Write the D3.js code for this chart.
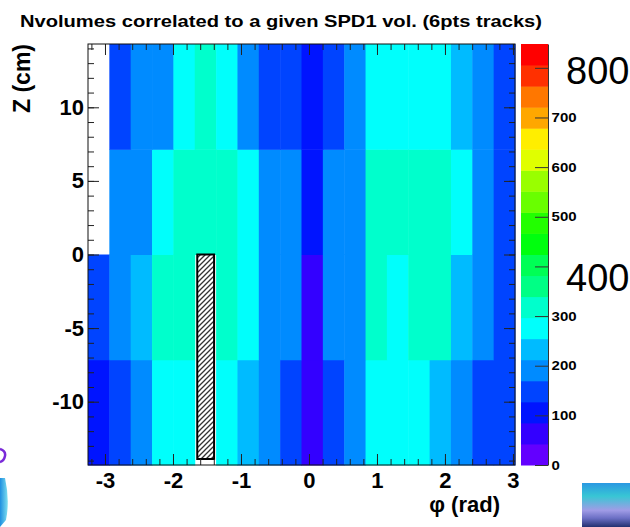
<!DOCTYPE html>
<html>
<head>
<meta charset="utf-8">
<script src="https://cdn.jsdelivr.net/npm/d3@7"></script>
<style>
  body { margin: 0; background: #fff; }
  svg { display: block; }
  text { font-family: "Liberation Sans", Arial, sans-serif; }
</style>
</head>
<body>
<svg id="chart" width="630" height="527"></svg>
<script>
// Axis ranges (phi in rad, Z in cm) and binning
const phiRange = [-3.25, 3.03];
const zRange = [-14.3, 14.3];
const nPhiBins = 20;
const zEdges = [-14.3, -7.15, 0, 7.15, 14.3];

// Counts per phi bin, one array per Z row (0 = empty bin, left white)
const rowTop    = [0, 150, 190, 190, 275, 320, 275, 190, 150, 150, 105, 150, 190, 275, 275, 275, 275, 235, 190, 150];
const rowUpper  = [0, 190, 190, 275, 320, 320, 320, 275, 190, 190, 105, 190, 190, 320, 320, 320, 320, 275, 190, 150];
const rowLower  = [150, 190, 235, 320, 320, 0, 320, 275, 190, 190, 65, 190, 190, 320, 275, 320, 320, 235, 190, 150];
const rowBottom = [105, 150, 190, 275, 275, 0, 275, 235, 190, 150, 65, 150, 190, 275, 275, 275, 235, 190, 150, 150];
const rows = [rowBottom, rowLower, rowUpper, rowTop]; // same order as zEdges

// Colour axis
const zMaxPalette = 848;
const nContours = 20;
const paletteTicks = [0, 100, 200, 300, 400, 500, 600, 700, 800];
const paletteBigLabels = [800, 400]; // pasted over the small ones
const bigLabelShift = [16, 25];      // baseline below the tick, px
const xTicks = [-3, -2, -1, 0, 1, 2, 3];
const yTicks = [-10, -5, 0, 5, 10];

// dead volume marked with a hatched box (phi bin index, lower Z half)
const deadBin = 5;

const svg = d3.select("#chart");
const frame = { left: 88, right: 515, top: 44, bottom: 465 };

const x = d3.scaleLinear().domain(phiRange).range([frame.left, frame.right]);
const y = d3.scaleLinear().domain(zRange).range([frame.bottom, frame.top]);

// ROOT "nice rainbow" palette (colours 51-100), 20 contour levels
const palette = d3.range(nContours).map(k => {
  const idx = Math.floor((k + 0.99) * 50 / nContours);
  const hue = 280 - (idx + 1) * (280 / 50);
  return d3.hsl(hue, 1, 0.5).formatHex();
});
const color = d3.scaleQuantize().domain([0, zMaxPalette]).range(palette);

const phiStep = (phiRange[1] - phiRange[0]) / nPhiBins;
const cells = [];
rows.forEach((row, j) => {
  row.forEach((v, i) => {
    cells.push({ i, j, v });
  });
});

// Cells
svg.append("g")
  .selectAll("rect")
  .data(cells.filter(d => d.v > 0))
  .enter()
  .append("rect")
  .attr("x", d => x(phiRange[0] + d.i * phiStep))
  .attr("y", d => y(zEdges[d.j + 1]))
  .attr("width", d => x(phiRange[0] + (d.i + 1) * phiStep) - x(phiRange[0] + d.i * phiStep) + 0.5)
  .attr("height", d => y(zEdges[d.j]) - y(zEdges[d.j + 1]) + 0.5)
  .attr("fill", d => color(d.v));

// Hatched box over the dead bins
const defs = svg.append("defs");
const hatch = defs.append("pattern")
  .attr("id", "hatch")
  .attr("patternUnits", "userSpaceOnUse")
  .attr("width", 5)
  .attr("height", 5);
hatch.append("rect").attr("width", 5).attr("height", 5).attr("fill", "#fff");
hatch.append("path")
  .attr("d", "M0,5 L5,0 M-1,1 L1,-1 M4,6 L6,4")
  .attr("stroke", "#333")
  .attr("stroke-width", 1.3);

svg.append("rect")
  .attr("x", x(phiRange[0] + deadBin * phiStep) + 2.5)
  .attr("y", y(0))
  .attr("width", x(phiRange[0] + (deadBin + 1) * phiStep) - x(phiRange[0] + deadBin * phiStep) - 4.5)
  .attr("height", y(zRange[0]) - y(0) - 6)
  .attr("fill", "url(#hatch)")
  .attr("stroke", "#000")
  .attr("stroke-width", 2);

// Axes: ticks drawn inward on all four sides
function minorTicks(domain, step) {
  const out = [];
  const start = Math.ceil(domain[0] / step);
  const end = Math.floor(domain[1] / step);
  for (let k = start; k <= end; k++) out.push(+(k * step).toFixed(4));
  return out;
}
const xMinor = minorTicks(phiRange, 0.2);
const yMinor = minorTicks(zRange, 1);

function styleAxis(g) {
  g.selectAll(".domain").remove();
  g.selectAll("line").attr("stroke", "#222").attr("stroke-width", 1);
}

// bottom
svg.append("g")
  .attr("transform", `translate(0,${frame.bottom})`)
  .call(d3.axisBottom(x).tickValues(xMinor).tickSize(-6).tickFormat(""))
  .call(styleAxis);
svg.append("g")
  .attr("transform", `translate(0,${frame.bottom})`)
  .call(d3.axisBottom(x).tickValues(xTicks).tickSize(-11).tickPadding(7).tickFormat(d3.format("d")))
  .call(styleAxis)
  .call(g => g.selectAll("text")
    .attr("font-size", 22).attr("font-weight", "bold").attr("fill", "#000")
    .text(d => d < 0 ? "-" + (-d) : d));
// top
svg.append("g")
  .attr("transform", `translate(0,${frame.top})`)
  .call(d3.axisTop(x).tickValues(xMinor).tickSize(-6).tickFormat(""))
  .call(styleAxis);
svg.append("g")
  .attr("transform", `translate(0,${frame.top})`)
  .call(d3.axisTop(x).tickValues(xTicks).tickSize(-11).tickFormat(""))
  .call(styleAxis);
// left
svg.append("g")
  .attr("transform", `translate(${frame.left},0)`)
  .call(d3.axisLeft(y).tickValues(yMinor).tickSize(-6).tickFormat(""))
  .call(styleAxis);
svg.append("g")
  .attr("transform", `translate(${frame.left},0)`)
  .call(d3.axisLeft(y).tickValues(yTicks).tickSize(-11).tickPadding(4).tickFormat(d3.format("d")))
  .call(styleAxis)
  .call(g => g.selectAll("text")
    .attr("font-size", 22).attr("font-weight", "bold").attr("fill", "#000")
    .text(d => d < 0 ? "-" + (-d) : d));
// right
svg.append("g")
  .attr("transform", `translate(${frame.right},0)`)
  .call(d3.axisRight(y).tickValues(yMinor).tickSize(-6).tickFormat(""))
  .call(styleAxis);
svg.append("g")
  .attr("transform", `translate(${frame.right},0)`)
  .call(d3.axisRight(y).tickValues(yTicks).tickSize(-11).tickFormat(""))
  .call(styleAxis);

// Frame
svg.append("rect")
  .attr("x", frame.left).attr("y", frame.top)
  .attr("width", frame.right - frame.left).attr("height", frame.bottom - frame.top)
  .attr("fill", "none").attr("stroke", "#111").attr("stroke-width", 1);

// Palette
const pal = { left: 521, right: 548 };
const p = d3.scaleLinear().domain([0, zMaxPalette]).range([frame.bottom, frame.top]);
const step = zMaxPalette / nContours;
svg.append("g")
  .selectAll("rect")
  .data(palette)
  .enter()
  .append("rect")
  .attr("x", pal.left)
  .attr("width", pal.right - pal.left)
  .attr("y", (c, k) => p((k + 1) * step))
  .attr("height", (c, k) => p(k * step) - p((k + 1) * step) + 0.5)
  .attr("fill", c => c);

svg.append("g")
  .attr("transform", `translate(${pal.right},0)`)
  .call(d3.axisRight(p).tickValues(paletteTicks).tickSize(-13).tickPadding(3).tickSizeOuter(0)
    .tickFormat(d => paletteBigLabels.includes(d) ? "" : d))
  .call(g => g.select(".domain").attr("stroke", "#333"))
  .call(g => g.selectAll("line").attr("stroke", "#333"))
  .call(g => g.selectAll("text")
    .attr("font-size", 12.5).attr("font-weight", "bold").attr("fill", "#000")
    .attr("transform", "scale(1.2,1)"));

// Big overlaid labels with white boxes
svg.append("g")
  .selectAll("g")
  .data(paletteBigLabels)
  .enter()
  .append("g")
  .each(function (d, i) {
    const g = d3.select(this);
    const base = p(d) + bigLabelShift[i];
    g.append("rect").attr("x", 549).attr("y", base - 44).attr("width", 81).attr("height", 56).attr("fill", "#fff");
    g.append("text").attr("x", 566).attr("y", base).attr("font-size", 38).attr("fill", "#000").text(d);
  });

// Title
svg.append("text")
  .attr("x", 20).attr("y", 27)
  .attr("font-size", 17).attr("font-weight", "bold")
  .attr("textLength", 522).attr("lengthAdjust", "spacingAndGlyphs")
  .text("Nvolumes correlated to  a given SPD1 vol. (6pts tracks)");

// Axis titles
svg.append("text")
  .attr("transform", `translate(30,${frame.top}) rotate(-90)`)
  .attr("text-anchor", "end")
  .attr("font-size", 23).attr("font-weight", "bold")
  .text("Z (cm)");
svg.append("text")
  .attr("x", 500).attr("y", 512)
  .attr("text-anchor", "end")
  .attr("font-size", 22).attr("font-weight", "bold")
  .text("φ (rad)");

// Slide decorations at the corners
const grad = defs.append("linearGradient").attr("id", "deco").attr("x1", 0).attr("y1", 0).attr("x2", 0).attr("y2", 1);
grad.append("stop").attr("offset", "0%").attr("stop-color", "#2a98e2");
grad.append("stop").attr("offset", "30%").attr("stop-color", "#38c6d4");
grad.append("stop").attr("offset", "62%").attr("stop-color", "#a09ce6");
grad.append("stop").attr("offset", "80%").attr("stop-color", "#6b6fc4");
grad.append("stop").attr("offset", "100%").attr("stop-color", "#233070");
svg.append("rect").attr("x", 582).attr("y", 483).attr("width", 48).attr("height", 44).attr("fill", "url(#deco)");

const grad2 = defs.append("linearGradient").attr("id", "deco2").attr("x1", 0).attr("y1", 0).attr("x2", 1).attr("y2", 0);
grad2.append("stop").attr("offset", "0%").attr("stop-color", "#1f8fe0");
grad2.append("stop").attr("offset", "100%").attr("stop-color", "#7fe0f0");
svg.append("path")
  .attr("d", "M0,478 L5,478 Q10,500 6,520 L0,527 Z")
  .attr("fill", "url(#deco2)");
svg.append("path")
  .attr("d", "M0,449 Q6,451 5,456 Q4,461 0,462")
  .attr("fill", "none").attr("stroke", "#7a2ad8").attr("stroke-width", 2.5);
</script>
</body>
</html>
